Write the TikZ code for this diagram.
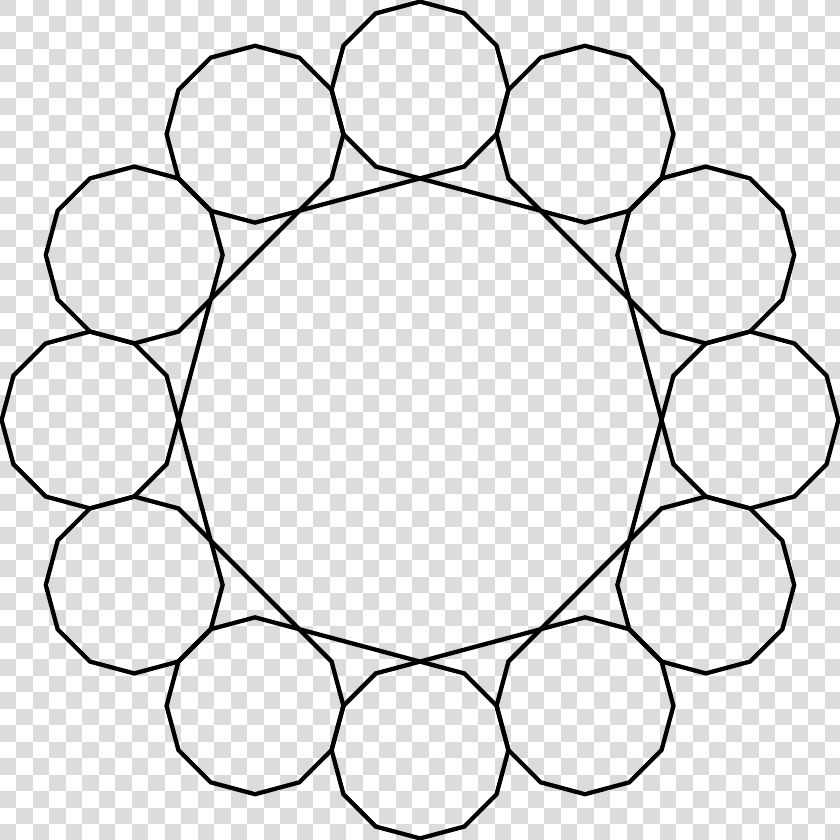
\documentclass[tikz,border=0pt]{standalone}
\definecolor{checkgrey}{RGB}{220,220,220}
\begin{document}
\begin{tikzpicture}[x=1pt,y=1pt,
  ringline/.style={line width=4.3pt, line join=miter, draw=black},
  checker/.style={fill=checkgrey}]
\useasboundingbox (0,0) rectangle (840,840);
\fill[white] (0,0) rectangle (840,840);
\begin{scope}
  \clip (0,0) rectangle (840,840);
  \foreach \i in {0,...,50} {
    \foreach \j in {0,...,50} {
      \pgfmathtruncatemacro{\cpar}{mod(\i+\j,2)}
      \ifnum\cpar=0
        \fill[checker] (-0.5+16.5*\i, 840.5-16.5*\j) rectangle ++(16.5,-16.5);
      \fi
    }
  }
\end{scope}
\begin{scope}[shift={(420,420)}]
  % twelve dodecagons on the ring
  \foreach \t in {0,30,...,330} {
    \draw[ringline, shift={(\t:330)}] (0:88.423)
      \foreach \a in {30,60,...,330} { -- (\a:88.423) } -- cycle;
  }
  % inner twelve-gon through the inner vertices
  \draw[ringline] (0:241.577)
    \foreach \a in {30,60,...,330} { -- (\a:241.577) } -- cycle;
\end{scope}
\end{tikzpicture}
\end{document}
